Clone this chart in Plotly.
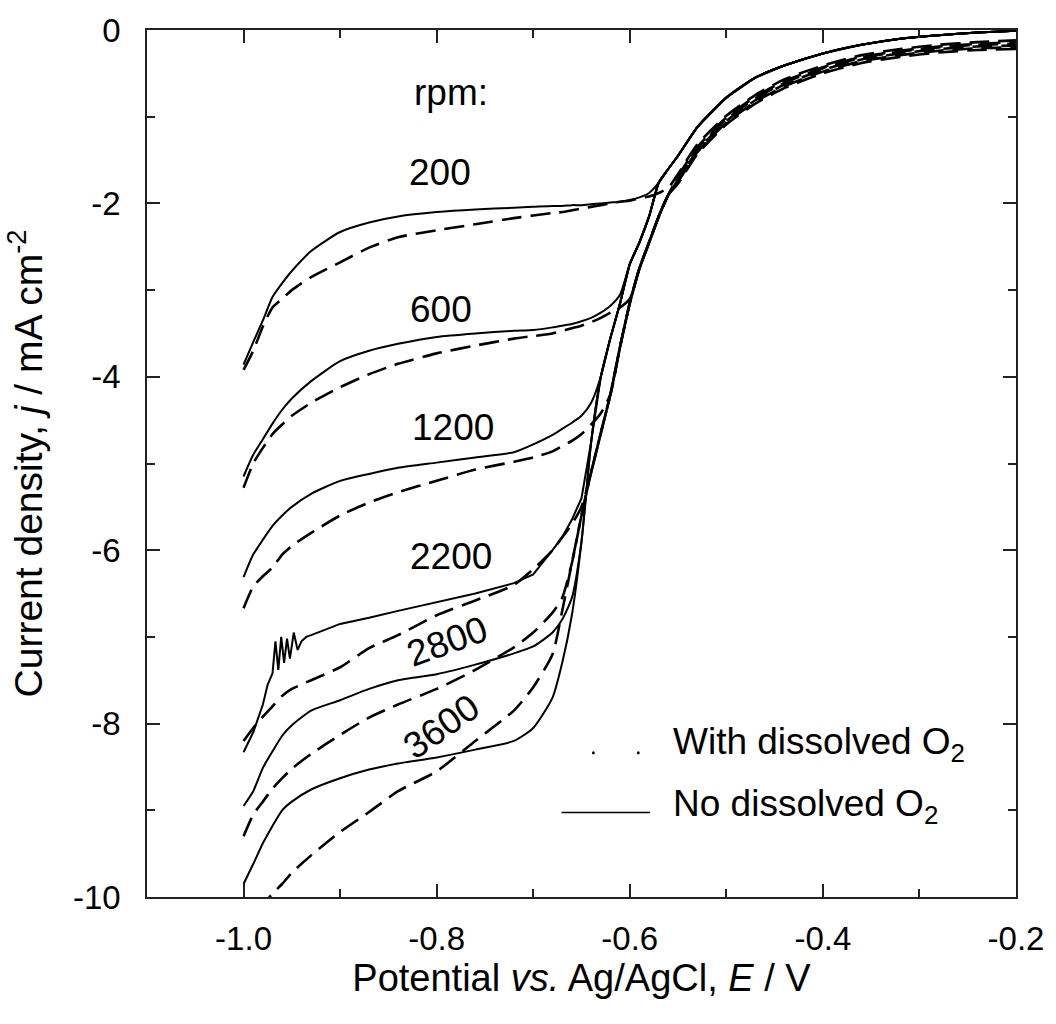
import plotly.graph_objects as go

# ---------------- data ----------------
rpm_labels = ["200", "600", "1200", "2200", "2800", "3600"]

# Potentials for the low-potential branch of the curves (V vs Ag/AgCl)
E_solid_low = [-1.0, -0.99, -0.98, -0.97, -0.96, -0.95, -0.93, -0.9, -0.87, -0.84, -0.8,
               -0.76, -0.72, -0.70, -0.68, -0.67, -0.66, -0.65, -0.64, -0.63, -0.62, -0.61,
               -0.60, -0.59, -0.58, -0.57]
# Shared high-potential branch of the curves without dissolved O2
E_solid_high = [-0.56, -0.55, -0.53, -0.50, -0.47, -0.44, -0.40, -0.36, -0.32, -0.28, -0.24, -0.20]
j_solid_high = [-1.60, -1.45, -1.12, -0.78, -0.55, -0.41, -0.27, -0.17, -0.10, -0.06, -0.03, -0.01]

j_solid_200 = [-3.86, -3.60, -3.35, -3.08, -2.92, -2.78, -2.55, -2.33, -2.22, -2.15, -2.10,
               -2.07, -2.05, -2.04, -2.03, -2.03, -2.02, -2.02, -2.01, -2.00, -1.99, -1.98,
               -1.96, -1.93, -1.88, -1.76]
j_solid_600 = [-5.15, -4.90, -4.72, -4.54, -4.38, -4.25, -4.05, -3.82, -3.70, -3.62, -3.54,
               -3.50, -3.47, -3.46, -3.43, -3.41, -3.39, -3.36, -3.32, -3.26, -3.18, -3.05,
               -2.70, -2.45, -2.15, -1.76]
j_solid_1200 = [-6.31, -6.05, -5.88, -5.72, -5.60, -5.50, -5.35, -5.20, -5.12, -5.05, -4.99,
                -4.93, -4.87, -4.78, -4.67, -4.60, -4.53, -4.45, -4.30, -4.00, -3.55, -3.15,
                -2.70, -2.45, -2.15, -1.76]
E_solid_2200 = [-1.0, -0.99, -0.98, -0.975, -0.97, -0.967, -0.964, -0.961, -0.958, -0.955,
                -0.952, -0.948, -0.944, -0.94, -0.935, -0.93, -0.9, -0.87, -0.84, -0.8, -0.76,
                -0.72, -0.70, -0.68, -0.67, -0.66, -0.65, -0.64, -0.63, -0.62, -0.61, -0.60,
                -0.59, -0.58, -0.57]
j_solid_2200 = [-8.33, -8.10, -7.78, -7.55, -7.42, -7.05, -7.38, -7.00, -7.30, -7.02,
                -7.25, -6.95, -7.15, -7.05, -7.00, -6.98, -6.85, -6.78, -6.70, -6.60, -6.50,
                -6.38, -6.28, -6.00, -5.85, -5.65, -5.40, -4.75, -4.00, -3.55, -3.15, -2.70,
                -2.45, -2.15, -1.76]
j_solid_2800 = [-8.95, -8.78, -8.51, -8.32, -8.14, -8.02, -7.85, -7.73, -7.60, -7.50, -7.43,
                -7.32, -7.19, -7.11, -6.95, -6.80, -6.55, -5.90, -4.75, -4.00, -3.55, -3.15,
                -2.70, -2.45, -2.15, -1.76]
j_solid_3600 = [-9.85, -9.62, -9.38, -9.18, -9.00, -8.90, -8.76, -8.63, -8.53, -8.46, -8.39,
                -8.30, -8.20, -8.05, -7.70, -7.30, -6.75, -5.90, -4.75, -4.00, -3.55, -3.15,
                -2.70, -2.45, -2.15, -1.76]

# Curves with dissolved O2 (dashed)
E_dash_low = [-1.0, -0.99, -0.98, -0.97, -0.96, -0.95, -0.93, -0.9, -0.87, -0.84, -0.8,
              -0.76, -0.72, -0.70, -0.68, -0.67, -0.66, -0.65, -0.64, -0.63, -0.62, -0.61,
              -0.60, -0.59, -0.58, -0.57, -0.56]
E_dash_high = [-0.55, -0.53, -0.50, -0.47, -0.44, -0.40, -0.36, -0.32, -0.28, -0.24, -0.20]

j_dash_200 = [-3.92, -3.70, -3.42, -3.20, -3.10, -3.00, -2.85, -2.68, -2.51, -2.39, -2.31,
              -2.24, -2.17, -2.14, -2.11, -2.10, -2.08, -2.06, -2.04, -2.02, -2.00, -1.98,
              -1.97, -1.94, -1.92, -1.88, -1.82,
              -1.66, -1.32, -0.99, -0.75, -0.57, -0.41, -0.29, -0.22, -0.17, -0.14, -0.12]
j_dash_600 = [-5.28, -5.00, -4.82, -4.66, -4.55, -4.45, -4.30, -4.12, -3.97, -3.85, -3.73,
              -3.64, -3.56, -3.53, -3.50, -3.47, -3.44, -3.41, -3.37, -3.32, -3.26, -3.20,
              -3.10, -2.75, -2.45, -2.15, -1.90,
              -1.69, -1.35, -1.01, -0.77, -0.59, -0.43, -0.31, -0.24, -0.19, -0.16, -0.14]
j_dash_1200 = [-6.67, -6.42, -6.30, -6.20, -6.05, -5.95, -5.80, -5.60, -5.45, -5.33, -5.20,
               -5.07, -4.98, -4.93, -4.86, -4.80, -4.74, -4.66, -4.55, -4.42, -4.20, -3.65,
               -3.15, -2.75, -2.45, -2.15, -1.90,
               -1.71, -1.37, -1.03, -0.79, -0.61, -0.44, -0.32, -0.25, -0.20, -0.17, -0.16]
j_dash_2200 = [-8.20, -8.05, -7.92, -7.80, -7.68, -7.60, -7.50, -7.35, -7.13, -6.98, -6.75,
               -6.58, -6.40, -6.22, -6.00, -5.85, -5.70, -5.50, -5.10, -4.65, -4.20, -3.65,
               -3.15, -2.75, -2.45, -2.15, -1.90,
               -1.73, -1.39, -1.05, -0.81, -0.63, -0.46, -0.34, -0.27, -0.22, -0.19, -0.18]
j_dash_2800 = [-9.30, -9.05, -8.90, -8.75, -8.63, -8.52, -8.35, -8.13, -7.93, -7.78, -7.60,
               -7.38, -7.12, -6.95, -6.72, -6.55, -6.15, -5.60, -5.10, -4.65, -4.20, -3.65,
               -3.15, -2.75, -2.45, -2.15, -1.90,
               -1.75, -1.41, -1.07, -0.83, -0.65, -0.48, -0.36, -0.29, -0.24, -0.21, -0.20]
j_dash_3600 = [-10.45, -10.30, -10.10, -9.96, -9.85, -9.72, -9.52, -9.25, -9.02, -8.78, -8.55,
               -8.20, -7.85, -7.58, -7.20, -6.70, -6.15, -5.60, -5.10, -4.65, -4.20, -3.65,
               -3.15, -2.75, -2.45, -2.15, -1.90,
               -1.77, -1.43, -1.09, -0.85, -0.67, -0.50, -0.38, -0.31, -0.26, -0.23, -0.22]

x_tick_vals = [-1.0, -0.8, -0.6, -0.4, -0.2]
x_tick_text = ["-1.0", "-0.8", "-0.6", "-0.4", "-0.2"]
x_minor_vals = [-1.1, -0.9, -0.7, -0.5, -0.3]
y_tick_vals = [0, -2, -4, -6, -8, -10]
y_tick_text = ["0", "-2", "-4", "-6", "-8", "-10"]
y_minor_vals = [-1, -3, -5, -7, -9]

# label placement for rpm annotations (E, j, angle)
rpm_label_pos = [(-0.797, -1.64, 0), (-0.796, -3.22, 0), (-0.783, -4.58, 0),
                 (-0.785, -6.07, 0), (-0.789, -7.05, -20), (-0.795, -8.03, -35)]

FONT = "Liberation Sans, Arial, sans-serif"

fig = go.Figure()

solid_series = [
    (E_solid_low, j_solid_200), (E_solid_low, j_solid_600), (E_solid_low, j_solid_1200),
    (E_solid_2200, j_solid_2200), (E_solid_low, j_solid_2800), (E_solid_low, j_solid_3600),
]
dash_series = [j_dash_200, j_dash_600, j_dash_1200, j_dash_2200, j_dash_2800, j_dash_3600]

for lab, jd in zip(rpm_labels, dash_series):
    fig.add_trace(go.Scatter(
        x=E_dash_low + E_dash_high, y=jd, mode="lines",
        line=dict(color="black", width=2.6, dash="20px,9px", shape="spline", smoothing=0.6),
        name=f"{lab} rpm, with dissolved O2", showlegend=False, hoverinfo="skip"))

for lab, (Es, js) in zip(rpm_labels, solid_series):
    shape = "linear" if lab == "2200" else "spline"
    fig.add_trace(go.Scatter(
        x=Es + E_solid_high, y=js + j_solid_high, mode="lines",
        line=dict(color="black", width=2, shape=shape, smoothing=0.6),
        name=f"{lab} rpm, no dissolved O2", showlegend=False, hoverinfo="skip"))

annotations = [dict(x=-0.785, y=-0.72, text="rpm:", showarrow=False,
                    font=dict(size=37, family=FONT, color="black"))]
for lab, (ex, jy, ang) in zip(rpm_labels, rpm_label_pos):
    annotations.append(dict(x=ex, y=jy, text=lab, showarrow=False, textangle=ang,
                            font=dict(size=37, family=FONT, color="black")))

# legend (drawn manually to match the reference)
annotations.append(dict(x=-0.5572, y=-8.234, text="With dissolved O<sub>2</sub>",
                        showarrow=False, xanchor="left", yanchor="middle",
                        font=dict(size=37, family=FONT, color="black")))
annotations.append(dict(x=-0.5572, y=-8.956, text="No dissolved O<sub>2</sub>",
                        showarrow=False, xanchor="left", yanchor="middle",
                        font=dict(size=37, family=FONT, color="black")))
shapes = [
    dict(type="line", x0=-0.6707, x1=-0.5789, y0=-9.025, y1=-9.025,
         line=dict(color="black", width=1.5)),
    dict(type="circle", x0=-0.6392, x1=-0.6362, y0=-8.355, y1=-8.32,
         fillcolor="black", line=dict(width=0)),
    dict(type="circle", x0=-0.5927, x1=-0.5897, y0=-8.355, y1=-8.32,
         fillcolor="black", line=dict(width=0)),
]

fig.update_layout(
    width=1056, height=1024,
    margin=dict(l=147, r=37, t=25, b=127),
    paper_bgcolor="white", plot_bgcolor="white",
    font=dict(family=FONT, color="black"),
    annotations=annotations, shapes=shapes,
    showlegend=False,
)
fig.update_xaxes(
    range=[-1.1, -0.2], showgrid=False, zeroline=False,
    showline=True, linecolor="#222", linewidth=1.5, mirror="ticks",
    ticks="inside", ticklen=13, tickwidth=1.5, tickcolor="#222",
    tickvals=x_tick_vals, ticktext=x_tick_text,
    tickfont=dict(size=33, family=FONT, color="black"), ticklabelstandoff=12,
    minor=dict(tickvals=x_minor_vals, ticks="inside", ticklen=8, tickwidth=1.5, tickcolor="#222"),
    title=dict(text="Potential <i>vs.</i> Ag/AgCl, <i>E</i> / V",
               font=dict(size=38, family=FONT, color="black"), standoff=4),
)
fig.update_yaxes(
    range=[-10, 0], showgrid=False, zeroline=False,
    showline=True, linecolor="#222", linewidth=1.5, mirror="ticks",
    ticks="inside", ticklen=13, tickwidth=1.5, tickcolor="#222",
    tickvals=y_tick_vals, ticktext=y_tick_text,
    tickfont=dict(size=33, family=FONT, color="black"), ticklabelstandoff=18,
    minor=dict(tickvals=y_minor_vals, ticks="inside", ticklen=8, tickwidth=1.5, tickcolor="#222"),
    title=dict(text="Current density, <i>j</i> / mA cm<sup>-2</sup>",
               font=dict(size=39, family=FONT, color="black"), standoff=18),
)

fig.write_html("out.html", config={"displayModeBar": False},
               post_script="document.body.style.margin='0px';")
